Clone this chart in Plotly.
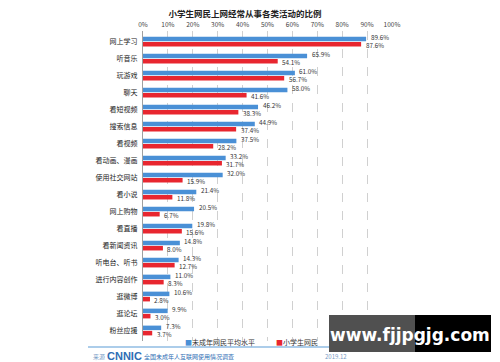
import plotly.graph_objects as go

categories = ["网上学习", "听音乐", "玩游戏", "聊天", "看短视频", "搜索信息", "看视频",
              "看动画、漫画", "使用社交网站", "看小说", "网上购物", "看直播", "看新闻资讯",
              "听电台、听书", "进行内容创作", "逛微博", "逛论坛", "粉丝应援"]
minors_avg = [89.6, 65.9, 61.0, 58.0, 46.2, 44.9, 37.5, 33.2, 32.0, 21.4, 20.5, 19.8,
              14.8, 14.3, 11.0, 10.6, 9.9, 7.3]
primary_students = [87.6, 54.1, 56.7, 41.6, 38.3, 37.4, 28.2, 31.7, 15.9, 11.8, 6.7, 15.6,
                    8.0, 12.7, 8.3, 2.8, 3.0, 3.7]
series_names = ["未成年网民平均水平", "小学生网民"]
x_ticks = [0, 10, 20, 30, 40, 50, 60, 70, 80, 90, 100]
x_tick_labels = [f"{v}%" for v in x_ticks]

FONT = "Noto Sans CJK SC, Noto Sans, sans-serif"
BLUE = "#4A90D6"
RED = "#E8262F"

# page body has an 8px default margin, so the figure is offset by 8px
OFF = 8
W, H = 500 - OFF, 362 - OFF
# plot area in window pixels
L, R, T, B = 143, 392, 31, 341

def px_x(p):
    return (p - L) / (R - L)

def px_y(p):
    return (B - p) / (B - T)

fig = go.Figure()
for name, vals, col in [(series_names[0], minors_avg, BLUE), (series_names[1], primary_students, RED)]:
    fig.add_trace(go.Bar(
        y=categories, x=vals, orientation="h", name=name,
        marker=dict(color=col, line=dict(width=0)),
        showlegend=False,
    ))

# value labels, placed on the axes at each bar's value
for vals, yshift in [(minors_avg, 4.0), (primary_students, -4.2)]:
    for cat, v in zip(categories, vals):
        fig.add_annotation(x=v, y=cat, xref="x", yref="y", text=f"{v:.1f}%", showarrow=False,
                           xanchor="left", yanchor="middle", xshift=2.5, yshift=yshift,
                           font=dict(size=6.3, color="#333333", family=FONT))

fig.update_layout(
    width=W, height=H,
    margin=dict(l=L - OFF, r=W - (R - OFF), t=T - OFF, b=H - (B - OFF), pad=0, autoexpand=False),
    paper_bgcolor="white", plot_bgcolor="white",
    barmode="group", bargap=0.38, bargroupgap=0.14,
    font=dict(family=FONT, size=7, color="#333333"),
    title=dict(text="<b>小学生网民上网经常从事各类活动的比例</b>", x=(245 - OFF) / W, xanchor="center",
               y=1 - 6.5 / H, yanchor="middle", font=dict(size=8.5, color="#222222", family=FONT)),
    xaxis=dict(side="top", range=[0, 100], tickvals=x_ticks, ticktext=x_tick_labels,
               showgrid=True, gridcolor="#D0D0D0", griddash="dash", gridwidth=0.6,
               zeroline=False, showline=False, ticks="", automargin=False,
               ticklabelstandoff=2,
               tickfont=dict(size=6.5, color="#444444")),
    yaxis=dict(autorange="reversed", showline=True, linecolor="#A0A0A0", linewidth=1,
               ticks="", showgrid=False, automargin=False,
               tickfont=dict(size=7, color="#222222"), ticksuffix="  "),
)

# legend (manual)
for xpx, name, col in [(183, series_names[0], BLUE), (274, series_names[1], RED)]:
    fig.add_annotation(xref="paper", yref="paper", x=px_x(xpx), y=px_y(342), xanchor="left",
                       yanchor="middle", showarrow=False,
                       text=f"<span style='color:{col}'>■</span>{name}",
                       font=dict(size=7, color="#333333", family=FONT))

# bottom separator line
fig.add_shape(type="line", xref="paper", yref="paper", x0=px_x(88), x1=px_x(405),
              y0=px_y(347), y1=px_y(347), line=dict(color="#5B9BD5", width=1.2))

# source text
fig.add_annotation(xref="paper", yref="paper", x=px_x(91), y=px_y(356), xanchor="left",
                   yanchor="middle", showarrow=False, text="来源",
                   font=dict(size=6, color="#7A9CC6", family=FONT))
fig.add_annotation(xref="paper", yref="paper", x=px_x(105), y=px_y(356), xanchor="left",
                   yanchor="middle", showarrow=False, text="<b>CNNIC</b>",
                   font=dict(size=11, color="#2E6DB4", family="Liberation Sans Narrow, Liberation Sans, Arial"))
fig.add_annotation(xref="paper", yref="paper", x=px_x(142), y=px_y(356), xanchor="left",
                   yanchor="middle", showarrow=False, text="全国未成年人互联网使用情况调查",
                   font=dict(size=6, color="#2E6DB4", family=FONT))
fig.add_annotation(xref="paper", yref="paper", x=px_x(336), y=px_y(356), xanchor="center",
                   yanchor="middle", showarrow=False, text="2019.12",
                   font=dict(size=6, color="#7A9CC6", family=FONT))

# watermark box
fig.add_shape(type="rect", xref="paper", yref="paper", x0=px_x(329), x1=px_x(415),
              y0=px_y(352), y1=px_y(315), fillcolor="#505050", line=dict(width=0), layer="above")
fig.add_shape(type="rect", xref="paper", yref="paper", x0=px_x(415), x1=px_x(491),
              y0=px_y(352), y1=px_y(315), fillcolor="#000000", line=dict(width=0), layer="above")
fig.add_annotation(xref="paper", yref="paper", x=px_x(410), y=px_y(335), xanchor="center",
                   yanchor="middle", showarrow=False, text="<b>www.fjjpgjg.com</b>",
                   font=dict(size=17, color="white", family="DejaVu Sans, sans-serif"))

fig.write_html("out.html")
